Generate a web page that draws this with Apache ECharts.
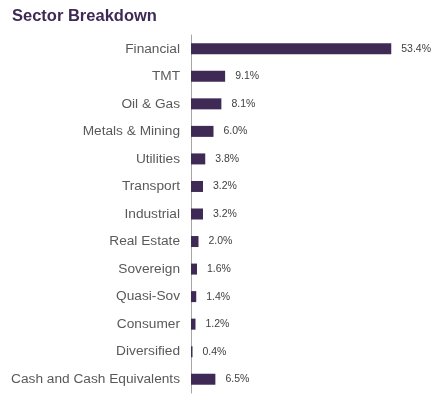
<!DOCTYPE html>
<html>
<head>
<meta charset="utf-8">
<script src="https://cdn.jsdelivr.net/npm/echarts@6/dist/echarts.min.js"></script>
<style>
  html, body { margin: 0; padding: 0; background: #fff; }
  #chart { width: 444px; height: 405px; }
</style>
</head>
<body>
<div id="chart"></div>
<script>
// sectors, top to bottom as shown
var sectors = ['Financial', 'TMT', 'Oil & Gas', 'Metals & Mining', 'Utilities', 'Transport',
  'Industrial', 'Real Estate', 'Sovereign', 'Quasi-Sov', 'Consumer', 'Diversified',
  'Cash and Cash Equivalents'];
var weights = [53.4, 9.1, 8.1, 6.0, 3.8, 3.2, 3.2, 2.0, 1.6, 1.4, 1.2, 0.4, 6.5];

var chart = echarts.init(document.getElementById('chart'));
chart.setOption({
  animation: false,
  title: {
    text: 'Sector Breakdown',
    left: 12, top: 8, padding: 0,
    textStyle: { fontFamily: 'Liberation Sans', fontSize: 16.5, fontWeight: 'bold', color: '#3d2a55' }
  },
  grid: { left: 191, top: 35, width: 225, height: 358, containLabel: false },
  xAxis: {
    type: 'value', min: 0, max: 60,
    show: false
  },
  yAxis: {
    type: 'category',
    inverse: true,
    data: sectors,
    axisLine: { show: true, lineStyle: { color: '#a6a6a6', width: 1 } },
    axisTick: { show: false },
    axisLabel: { margin: 11, fontFamily: 'Liberation Sans', fontSize: 13.7, color: '#595959' }
  },
  series: [{
    type: 'bar',
    data: weights,
    barWidth: 11,
    itemStyle: { color: '#3f2a56' },
    label: {
      show: true, position: 'right', distance: 10,
      fontFamily: 'Liberation Sans', fontSize: 10.5, color: '#404040',
      formatter: function (p) { return p.value.toFixed(1) + '%'; }
    }
  }]
});
</script>
</body>
</html>
